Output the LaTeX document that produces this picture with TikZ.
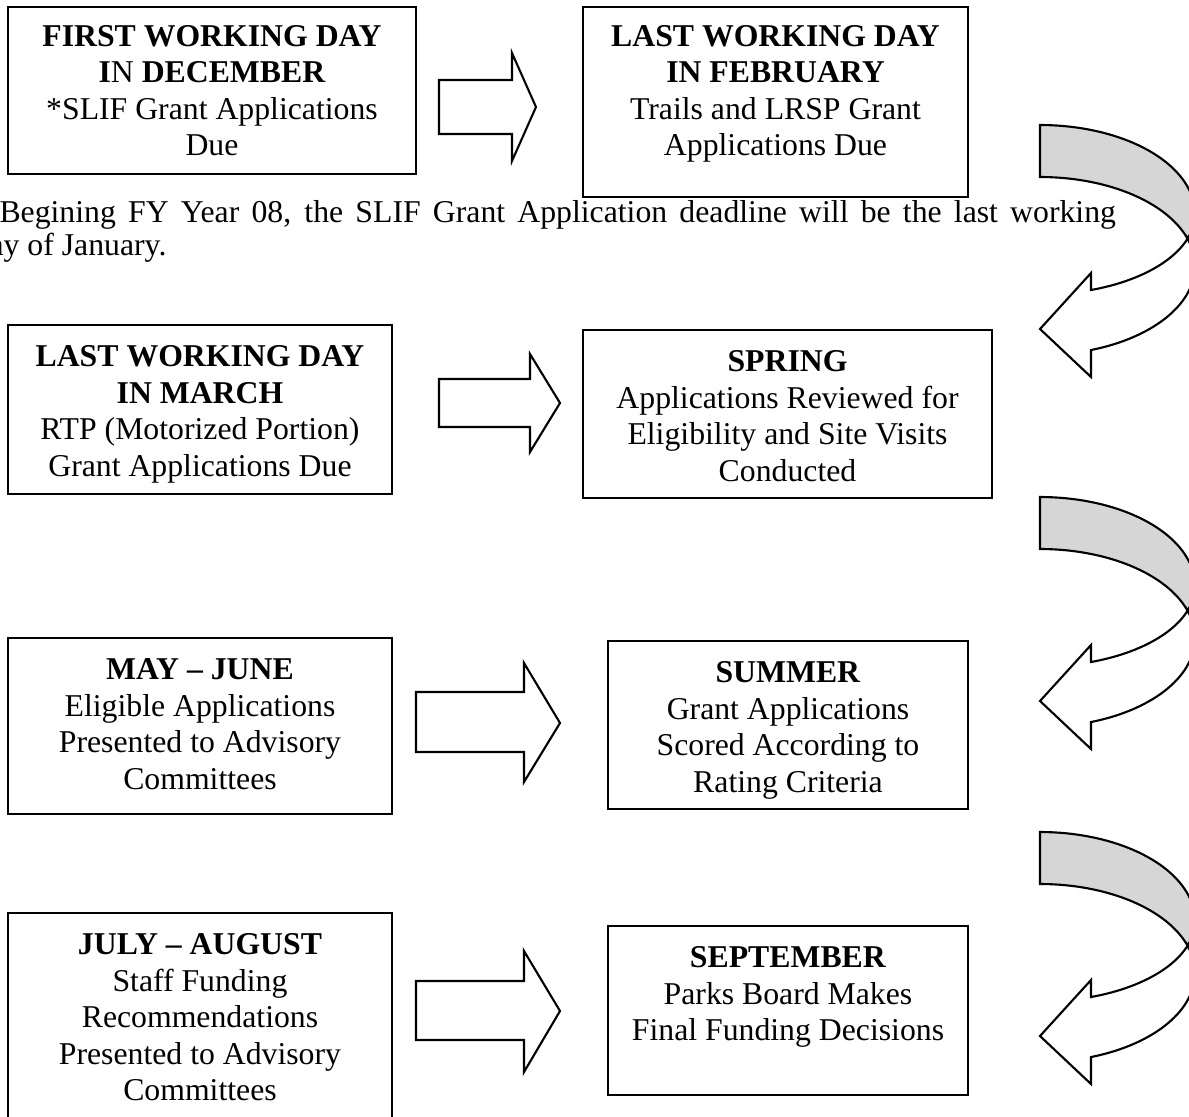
\documentclass[tikz,border=0pt]{standalone}
\usepackage{fontspec}
\setmainfont{Liberation Serif}
\usetikzlibrary{positioning}
\begin{document}
\begin{tikzpicture}[x=0.378pt,y=-0.378pt,
    box/.style 2 args={draw,line width=0.8pt,inner sep=0pt,minimum width=#1*0.378pt,minimum height=#2*0.378pt},
    boxtext/.style={align=center,inner sep=0pt,font=\fontsize{12}{13.8}\selectfont},
    note/.style={inner sep=0pt,anchor=base west,font=\fontsize{12}{13.8}\selectfont},
    blockarrow/.style={draw,fill=white,line width=0.8pt,line join=miter},
    turnback/.style={draw,fill=black!16,line width=0.8pt},
    turnfront/.style={draw,fill=white,line width=0.8pt}]
  \useasboundingbox (0,0) rectangle (1189,1116);
  \clip (0,0) rectangle (1189,1116);

  \node[box={408}{167}] (dec) at (212,90.5) {};
  \node[box={385}{190}] (feb) at (775.5,102) {};
  \node[box={384}{169}] (mar) at (200,409.5) {};
  \node[box={409}{168}] (spring) at (787.5,414) {};
  \node[box={384}{176}] (mayjun) at (200,726) {};
  \node[box={360}{168}] (summer) at (788,725) {};
  \node[box={384}{220}] (julaug) at (200,1023) {};
  \node[box={360}{169}] (sept) at (788,1010.5) {};

  \node[boxtext,below=7pt of dec.north] (dectext) {\textbf{FIRST WORKING DAY}\\\textbf{I}N \textbf{DECEMBER}\\*SLIF Grant Applications\\Due};
  \node[boxtext,below=7pt of feb.north] (febtext) {\textbf{LAST WORKING DAY}\\\textbf{IN FEBRUARY}\\Trails and LRSP Grant\\Applications Due};
  \node[boxtext,below=8pt of mar.north] (martext) {\textbf{LAST WORKING DAY}\\\textbf{IN MARCH}\\RTP (Motorized Portion)\\Grant Applications Due};
  \node[boxtext,below=8pt of spring.north] (springtext) {\textbf{SPRING}\\Applications Reviewed for\\Eligibility and Site Visits\\Conducted};
  \node[boxtext,below=8pt of mayjun.north] (mayjuntext) {\textbf{MAY – JUNE}\\Eligible Applications\\Presented to Advisory\\Committees};
  \node[boxtext,below=8pt of summer.north] (summertext) {\textbf{SUMMER}\\Grant Applications\\Scored According to\\Rating Criteria};
  \node[boxtext,below=8pt of julaug.north] (julaugtext) {\textbf{JULY – AUGUST}\\Staff Funding\\Recommendations\\Presented to Advisory\\Committees};
  \node[boxtext,below=8pt of sept.north] (septtext) {\textbf{SEPTEMBER}\\Parks Board Makes\\Final Funding Decisions};

  \node[note] (fnone) at (-1,222) {\makebox[422pt][s]{Begining FY Year 08, the SLIF Grant Application deadline will be the last working}};
  \node[note] (fntwo) at (-11,255) {ay of January.};

  \draw[blockarrow] (439,80) -- (512,80) -- (512,53) -- (536,107) -- (512,161) -- (512,134) -- (439,134) -- cycle;
  \draw[blockarrow] (439,379) -- (530,379) -- (530,354) -- (560,403) -- (530,452) -- (530,427) -- (439,427) -- cycle;
  \draw[blockarrow] (416,692) -- (524,692) -- (524,663) -- (560,723) -- (524,782) -- (524,752) -- (416,752) -- cycle;
  \draw[blockarrow] (416,981) -- (524,981) -- (524,951) -- (560,1011) -- (524,1072) -- (524,1040) -- (416,1040) -- cycle;

  \foreach \off in {0,372,707}{
    \filldraw[turnback] plot[domain=90:0,samples=40,variable=\t] ({1040+155*cos(\t)},{\off+214-89*sin(\t)})
      -- plot[domain=0:-17.9,samples=10,variable=\t] ({1040+155*cos(\t)},{\off+214-80.5*sin(\t)})
      -- plot[domain=17.9:90,samples=40,variable=\t] ({1040+155*cos(\t)},{\off+266-89*sin(\t)}) -- cycle;
    \filldraw[turnfront] plot[domain=-17.9:-70.8,samples=30,variable=\t] ({1040+155*cos(\t)},{\off+214-80.5*sin(\t)})
      -- (1091,\off+273) -- (1040,\off+329) -- (1091,\off+377)
      -- plot[domain=-70.8:17.9,samples=40,variable=\t] ({1040+155*cos(\t)},{\off+266-89*sin(\t)}) -- cycle;
  }
\end{tikzpicture}
\end{document}
